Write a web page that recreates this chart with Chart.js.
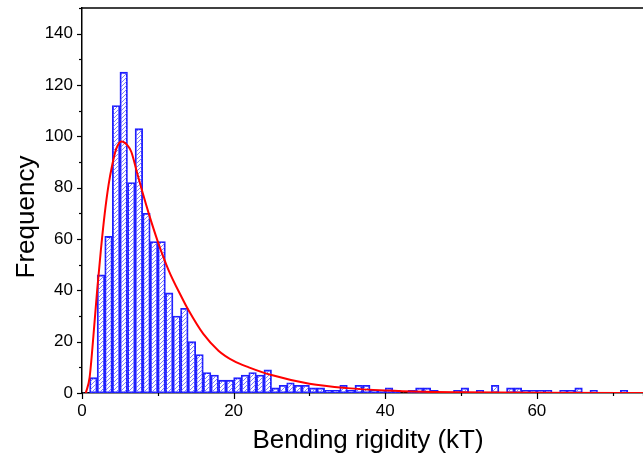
<!DOCTYPE html>
<html>
<head>
<meta charset="utf-8">
<script src="https://cdn.jsdelivr.net/npm/chart.js@4/dist/chart.umd.min.js"></script>
<style>
  html, body { margin: 0; padding: 0; background: #fff; }
  canvas { display: block; }
</style>
</head>
<body>
<canvas id="c" width="643" height="458"></canvas>
<script>
// Histogram: bin start (width 1 kT) and frequency
const binStarts = [0,1,2,3,4,5,6,7,8,9,10,11,12,13,14,15,16,17,18,19,20,21,22,23,24,25,26,27,28,29,30,31,32,33,34,35,36,37,38,39,40,41,42,43,44,45,46,47,48,49,50,51,52,53,54,55,56,57,58,59,60,61,62,63,64,65,66,67,68,69,70,71,72,73];
const counts    = [0,6,46,61,112,125,82,103,70,59,59,39,30,33,20,15,8,7,5,5,6,7,8,7,9,2,3,4,3,3,2,2,1,1,3,1,3,3,1,1,2,1,0,1,2,2,1,0,0,1,2,0,1,0,3,0,2,2,1,1,1,1,0,1,1,2,0,1,0,0,0,1,0,0];

// Fit curve
const fitX = [0.5, 1.0, 1.5, 2.0, 2.5, 3.0, 3.5, 4.0, 4.5, 5.2, 6.0, 6.5, 7.25, 8.0, 8.8, 10.0, 11.4, 13.2, 14.0, 16.0, 18.0, 20.0, 22.0, 25.0, 30.0, 35.0, 40.0, 45.0, 50.0, 60.0, 74.0];
const fitY = [0, 6, 22, 40, 56, 70, 81, 89, 95, 98, 96.5, 94, 86, 78, 70, 59, 48, 37, 32.5, 23, 16.5, 12.5, 10, 7, 3.6, 1.9, 1.0, 0.5, 0.3, 0.1, 0.03];

const xTickLabels = [0, 20, 40, 60];
const yTickLabels = [0, 20, 40, 60, 80, 100, 120, 140];

const FONT = "'Liberation Sans', Arial, sans-serif";

function hatchPattern() {
  const c = document.createElement('canvas');
  c.width = 4; c.height = 4;
  const g = c.getContext('2d');
  g.strokeStyle = 'rgb(110,110,255)';
  g.lineWidth = 0.9;
  g.beginPath();
  g.moveTo(0, 4); g.lineTo(4, 0);
  g.moveTo(-1, 1); g.lineTo(1, -1);
  g.moveTo(3, 5); g.lineTo(5, 3);
  g.stroke();
  return document.getElementById('c').getContext('2d').createPattern(c, 'repeat');
}

const deco = {
  id: 'deco',
  afterDraw(chart) {
    const { ctx, chartArea: a, scales: { x, y } } = chart;
    ctx.save();
    ctx.strokeStyle = '#000';
    ctx.lineWidth = 1.5;
    ctx.beginPath();
    ctx.moveTo(a.left, a.top);
    ctx.lineTo(a.right, a.top);
    ctx.stroke();
    ctx.lineWidth = 1.2;
    x.ticks.forEach(t => {
      const p = Math.round(x.getPixelForValue(t.value)) + 0.5;
      const L = xTickLabels.includes(t.value) ? 6 : 3;
      ctx.beginPath();
      ctx.moveTo(p, a.bottom);
      ctx.lineTo(p, a.bottom + L);
      ctx.stroke();
    });
    y.ticks.forEach(t => {
      const p = Math.round(y.getPixelForValue(t.value)) + 0.5;
      const L = yTickLabels.includes(t.value) ? 5 : 3;
      ctx.beginPath();
      ctx.moveTo(a.left, p);
      ctx.lineTo(a.left - L, p);
      ctx.stroke();
    });
    ctx.fillStyle = '#000';
    ctx.font = '26px ' + FONT;
    ctx.textAlign = 'center';
    ctx.textBaseline = 'alphabetic';
    ctx.fillText('Bending rigidity (kT)', 368, 448);
    ctx.translate(33.5, 217);
    ctx.rotate(-Math.PI / 2);
    ctx.fillText('Frequency', 0, 0);
    ctx.restore();
  }
};

const barData = binStarts.map((b, i) => ({ x: b + 0.5, y: counts[i] }));
const lineData = fitX.map((v, i) => ({ x: v, y: fitY[i] }));

new Chart(document.getElementById('c'), {
  type: 'bar',
  data: {
    datasets: [
      {
        type: 'line',
        data: lineData,
        borderColor: '#ff0000',
        borderWidth: 2,
        pointRadius: 0,
        fill: false,
        cubicInterpolationMode: 'monotone',
        order: 0
      },
      {
        type: 'bar',
        data: barData,
        backgroundColor: hatchPattern(),
        borderColor: 'rgb(30,30,255)',
        borderWidth: ctx => (ctx.raw && ctx.raw.y > 0 ? 1.2 : 0),
        borderSkipped: false,
        barPercentage: 1,
        categoryPercentage: 1,
        order: 1
      }
    ]
  },
  options: {
    responsive: false,
    animation: false,
    layout: { padding: { top: 8, right: 0, left: 0, bottom: 0 } },
    plugins: { legend: { display: false }, tooltip: { enabled: false } },
    scales: {
      x: {
        type: 'linear', min: 0, max: 74, offset: false,
        grid: { display: false, drawTicks: true, tickLength: 6 },
        border: { display: true, color: '#000', width: 1.5 },
        ticks: {
          stepSize: 10, autoSkip: false, maxRotation: 0, padding: 2, color: '#000',
          font: { family: FONT, size: 17 },
          callback: v => (xTickLabels.includes(v) ? String(v) : '')
        },
        afterFit(s) { s.height = 65; s.paddingLeft = 0; s.paddingRight = 0; }
      },
      y: {
        min: 0, max: 150,
        grid: { display: false, drawTicks: true, tickLength: 5 },
        border: { display: true, color: '#000', width: 1.5 },
        ticks: {
          stepSize: 10, autoSkip: false, padding: 4, color: '#000',
          font: { family: FONT, size: 17 },
          callback: v => (yTickLabels.includes(v) ? String(v) : '')
        },
        afterFit(s) { s.width = 82; s.paddingTop = 0; s.paddingBottom = 0; }
      }
    }
  },
  plugins: [deco]
});
</script>
</body>
</html>
